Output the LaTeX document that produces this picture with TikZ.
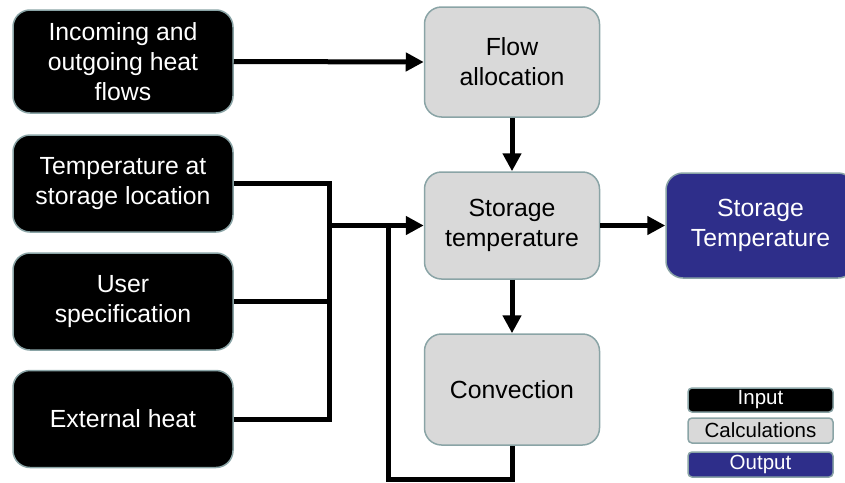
\documentclass[tikz,border=0pt]{standalone}
\usepackage{fontspec}
\setmainfont{Liberation Sans}
\usetikzlibrary{arrows.meta}
\definecolor{boxedge}{RGB}{138,164,166}
\definecolor{calcgray}{RGB}{217,217,217}
\definecolor{outblue}{RGB}{46,46,138}

\begin{document}
\begin{tikzpicture}[x=1pt,y=-1pt,
    box/.style={draw=boxedge,line width=1.5pt,rounded corners=17pt,align=center,inner sep=0pt,
        font=\fontsize{24.8}{30}\selectfont},
    inbox/.style={box,fill=black,text=white,minimum width=220pt,minimum height=97pt},
    calcbox/.style={box,fill=calcgray,text=black,minimum width=175pt,minimum height=109pt},
    outbox/.style={box,fill=outblue,text=white,minimum width=189pt,minimum height=105pt},
    keybox/.style={draw=boxedge,line width=1.5pt,rounded corners=4pt,inner sep=0pt,
        minimum width=145pt,minimum height=24pt,font=\fontsize{20.5}{22}\selectfont},
    flow/.style={line width=5pt},
    flowarrow/.style={flow,-{Triangle[length=18pt,width=18pt]}}]
            \useasboundingbox (0,0) rectangle (845,482);
            % Entradas
            \draw (123,61.5) node[inbox,minimum height=103pt] (heatflows) {Incoming and\\outgoing heat\\flows};
            \draw (123,183.5) node[inbox] (ambient) {Temperature at\\storage location};
            \draw (123,301.5) node[inbox] (userspec) {User\\specification};
            \draw (123,419) node[inbox] (extheat) {External heat};
            % Calculos
            \draw (512,62) node[calcbox,minimum height=110pt] (alloc) {Flow\\allocation};
            \draw (512,225.5) node[calcbox,minimum height=107pt] (storetemp) {Storage\\temperature};
            \draw (512,389.5) node[calcbox,minimum height=111pt] (convect) {Convection};
            % Salida
            \draw (760.5,225.5) node[outbox] (result) {Storage\\Temperature};
            % Leyenda
            \draw (760.5,400) node[keybox,fill=black,text=white] (keyin) {Input};
            \draw (760.5,430.5) node[keybox,fill=calcgray,minimum height=25pt] (keycalc) {Calculations};
            \draw (760.5,464.5) node[keybox,fill=outblue,text=white,minimum height=25pt] (keyout) {Output};
            % Conexiones
            \coordinate (bus) at (329,225.5);
            \coordinate (feedback) at (388,225.5);
            \coordinate (loopcorner) at (388,479.5);
            \draw[flowarrow] (heatflows.east) -- (alloc.west);
            \draw[flow] (ambient.east) -| (bus);
            \draw[flow] (extheat.east) -| (bus);
            \draw[flow] (userspec.east) -- (userspec.east -| bus);
            \draw[flowarrow] (bus) -- (storetemp.west);
            \draw[flowarrow] (alloc.south) -- (storetemp.north);
            \draw[flowarrow] (storetemp.south) -- (convect.north);
            \draw[flowarrow] (storetemp.east) -- (result.west);
            % Retroalimentacion
            \draw[flow] (convect.south) |- (loopcorner) -- (feedback);
        \end{tikzpicture}
\end{document}
